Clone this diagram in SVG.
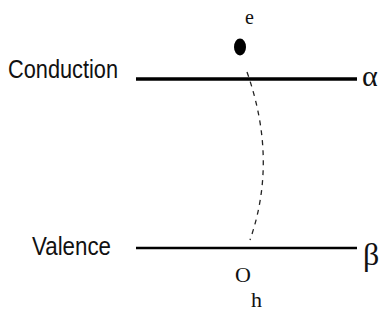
<svg xmlns="http://www.w3.org/2000/svg" width="389" height="329" viewBox="0 0 389 329">
<style>
.lbl{font-family:"Liberation Sans",Arial,sans-serif;fill:#111}
.ser{font-family:"Liberation Serif","Times New Roman",serif;fill:#111}
.band{stroke:#000;fill:none}
</style>
<rect width="389" height="329" fill="#fff"/>
<g id="conduction">
<line class="band" x1="136" y1="79" x2="357" y2="79" stroke-width="3.5"/>
<text class="lbl" x="8" y="78" font-size="25" textLength="110" lengthAdjust="spacingAndGlyphs">Conduction</text>
<text class="ser" x="362" y="86" font-size="30">α</text>
</g>
<g id="valence">
<line class="band" x1="136" y1="248" x2="357" y2="248" stroke-width="2.5"/>
<text class="lbl" x="32" y="255" font-size="25" textLength="79" lengthAdjust="spacingAndGlyphs">Valence</text>
<text class="ser" x="363" y="265" font-size="32">β</text>
</g>
<g id="electron">
<ellipse cx="240" cy="47" rx="6" ry="8.5" fill="#000"/>
<text class="ser" x="245" y="24" font-size="20">e</text>
</g>
<g id="hole">
<text class="ser" x="235" y="282" font-size="22">O</text>
<text class="ser" x="251" y="307" font-size="22">h</text>
</g>
<g id="connectors">
<path d="M247 72 Q278 160 250 240" fill="none" stroke="#222" stroke-width="1.3" stroke-dasharray="5,5"/>
</g>
</svg>
